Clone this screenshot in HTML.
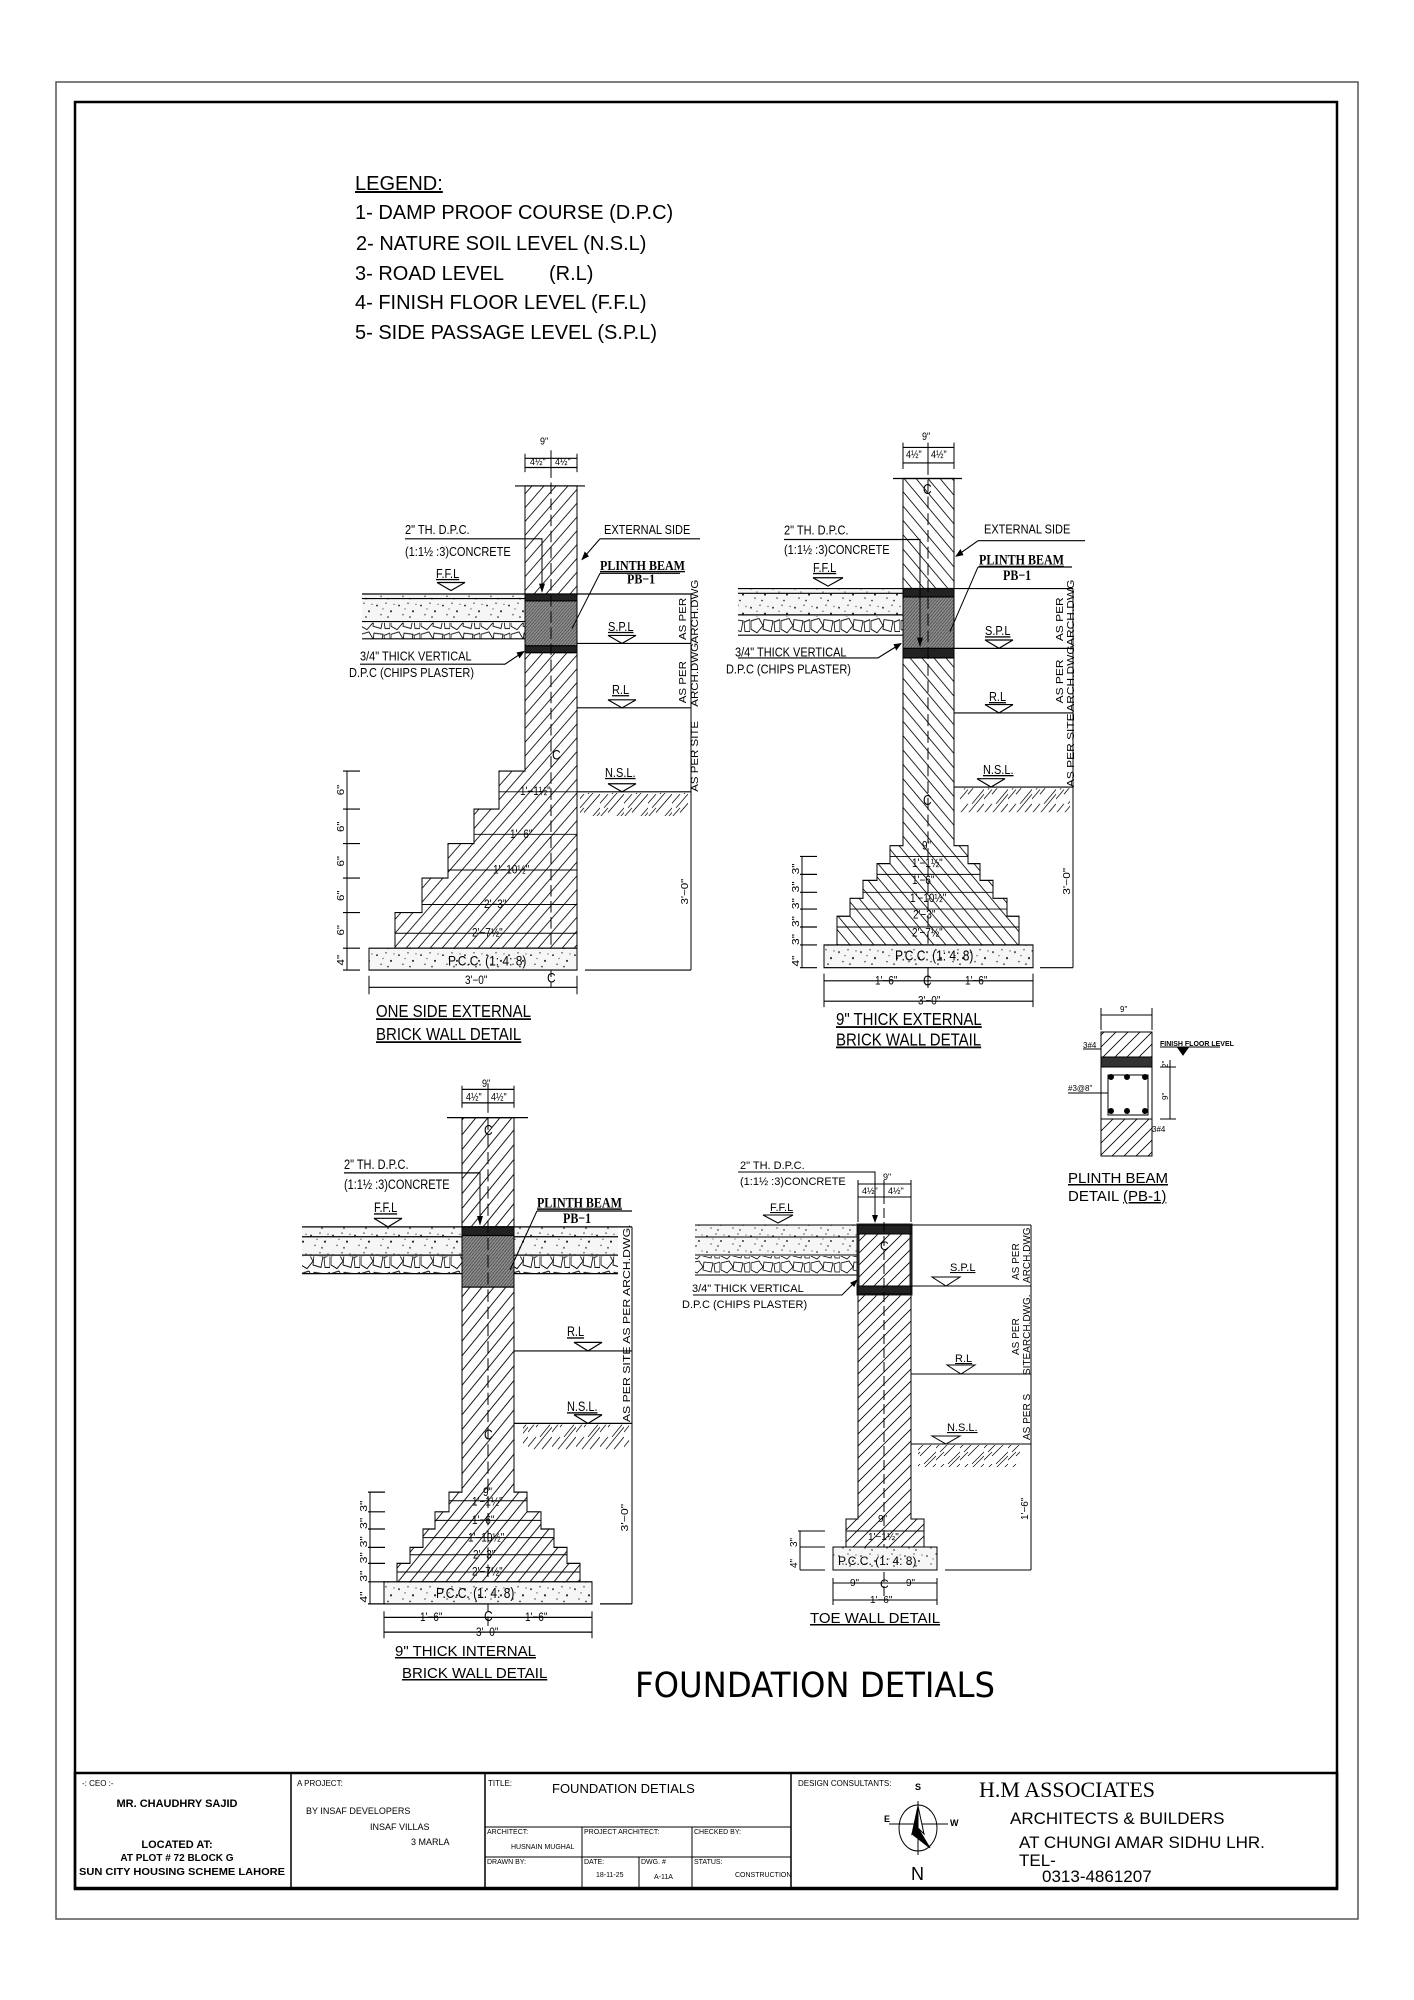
<!DOCTYPE html>
<html><head><meta charset="utf-8"><style>
html,body{margin:0;padding:0;background:#fff}
svg{display:block}
text{font-family:"Liberation Sans",Arial,sans-serif;fill:#000}
.s{font-size:11px}
.m{font-size:12px}
.b{font-family:"Liberation Serif",serif;font-weight:bold;font-size:12px}
.t{font-size:7px}
.tb{font-family:"Liberation Sans",sans-serif;font-size:10px}
</style></head><body>
<svg width="1414" height="2000" viewBox="0 0 1414 2000" xmlns="http://www.w3.org/2000/svg">
<defs>
<pattern id="hf" patternUnits="userSpaceOnUse" width="12" height="12"><path d="M-1,1 l2,-2 M0,12 l12,-12 M11,13 l2,-2" stroke="#000" stroke-width="0.8"/></pattern>
<pattern id="hb" patternUnits="userSpaceOnUse" width="12" height="12"><path d="M-1,11 l2,2 M0,0 l12,12 M11,-1 l2,2" stroke="#000" stroke-width="0.8"/></pattern>
<pattern id="dk" patternUnits="userSpaceOnUse" width="3" height="3"><rect width="3" height="3" fill="#8c8c8c"/><path d="M0,3 l3,-3" stroke="#444" stroke-width="0.6"/></pattern>
<pattern id="cc" patternUnits="userSpaceOnUse" width="22" height="16"><rect width="22" height="16" fill="#f6f6f6"/><circle cx="3" cy="4" r="0.8"/><circle cx="12" cy="2" r="0.6"/><circle cx="17" cy="9" r="0.9"/><circle cx="7" cy="12" r="0.6"/><circle cx="14" cy="14" r="0.7"/><circle cx="20" cy="3" r="0.5"/><circle cx="9" cy="7" r="0.5"/></pattern>
<pattern id="st" patternUnits="userSpaceOnUse" width="30" height="14"><rect width="30" height="14" fill="#fff"/><path d="M1,3 l8,-2 l4,6 l-6,6 l-6,-3z M14,2 l9,1 l-2,9 l-8,-2z M24,4 l6,-2 l0,10 l-5,0z" fill="none" stroke="#000" stroke-width="0.8"/></pattern>
<pattern id="so" patternUnits="userSpaceOnUse" width="24" height="24"><path d="M0,8 l8,-8 M4,12 l12,-12 M8,16 l16,-16 M12,24 l12,-12 M0,20 l8,-8 M16,24 l8,-8" stroke="#000" stroke-width="0.7"/></pattern>
<marker id="ar" markerWidth="8" markerHeight="8" refX="7" refY="4" orient="auto"><path d="M0,1 L8,4 L0,7z" fill="#000"/></marker>
</defs>
<rect x="0" y="0" width="1414" height="2000" fill="#fff"/>
<rect x="56" y="82" width="1302" height="1837" fill="none" stroke="#555" stroke-width="1.5"/>
<rect x="75" y="102" width="1262" height="1786" fill="none" stroke="#000" stroke-width="2.5"/>

<g style="font-size:20px">
<text x="355" y="190" text-decoration="underline">LEGEND:</text>
<text x="355" y="219">1- DAMP PROOF COURSE (D.P.C)</text>
<text x="356" y="250">2- NATURE SOIL LEVEL (N.S.L)</text>
<text x="355" y="280">3- ROAD LEVEL</text><text x="549" y="280">(R.L)</text>
<text x="355" y="309">4- FINISH FLOOR LEVEL (F.F.L)</text>
<text x="355" y="339">5- SIDE PASSAGE LEVEL (S.P.L)</text>
</g>

<!-- ========== DETAIL 1 ========== -->
<g transform="matrix(1,0,0,1.15,0,-61.5)">
<g stroke="#000" stroke-width="1" fill="none">
<rect x="362" y="570" width="163" height="24" fill="url(#cc)" stroke="none"/>
<rect x="362" y="595" width="163" height="14" fill="url(#st)" stroke="none"/>
<path d="M362,570 H525 M362,574 H525 M362,594 H525 M362,609 H525"/>
<path d="M525,476 H577 V878 H395 V847 H422 V817 H448 V787 H474 V757 H499 V724 H525 Z" fill="url(#hf)"/>
<rect x="525" y="570" width="52" height="51" fill="url(#dk)"/>
<rect x="525" y="570" width="52" height="6" fill="#222"/>
<rect x="525" y="615" width="52" height="6" fill="#222"/>
<path d="M515,476 H585"/>
<path d="M551,445 V912" stroke-dasharray="10,4"/>
<path d="M525,452 H577 M525,460 H577 M525,448 V464 M577,448 V464 M551,448 V464"/>
<rect x="369" y="878" width="208" height="19" fill="url(#cc)"/>
<path d="M499,742 H577 M474,779 H577 M448,810 H577 M422,840 H577 M395,865 H577" stroke-width="0.8"/>
<path d="M347,724 V897 M343,724 H360 M343,757 H360 M343,787 H360 M343,817 H360 M343,847 H360 M343,878 H360 M343,897 H360"/>
<path d="M577,570 H691 M577,613 H691 M577,669 H691 M577,742 H691 M585,897 H691 M691,570 V897"/>
<rect x="580" y="743" width="108" height="20" fill="url(#so)" stroke="none"/>
<path d="M369,912 H577 M369,902 V918 M577,902 V918"/>
<path d="M405,522 H542 V568" marker-end="url(#ar)"/>
<path d="M600,522 H700 M600,522 L582,540" marker-end="url(#ar)"/>
<path d="M600,552 H680 M600,552 L572,600"/>
<path d="M360,631 H505 L524,620" marker-end="url(#ar)"/>
<path d="M437,560 H465 L451,567 Z M608,606 H636 L622,613 Z M608,662 H636 L622,669 Z M608,735 H636 L622,742 Z"/>
</g>
<g class="s">
<text x="540" y="440" style="font-size:9px">9"</text>
<text x="530" y="458" style="font-size:9px">4½"</text><text x="555" y="458" style="font-size:9px">4½"</text>
<text x="405" y="518">2"  TH.  D.P.C.</text>
<text x="405" y="537">(1:1½ :3)CONCRETE</text>
<text x="604" y="518">EXTERNAL  SIDE</text>
<text class="b" x="600" y="549" text-decoration="underline">PLINTH  BEAM</text>
<text class="b" x="627" y="561">PB−1</text>
<text x="436" y="556" text-decoration="underline">F.F.L</text>
<text x="360" y="628">3/4"  THICK  VERTICAL</text>
<text x="349" y="642">D.P.C  (CHIPS  PLASTER)</text>
<text x="608" y="602" text-decoration="underline">S.P.L</text>
<text x="612" y="657" text-decoration="underline">R.L</text>
<text x="605" y="729" text-decoration="underline">N.S.L.</text>
<text x="552" y="714" style="font-size:12px">C</text>
<text x="547" y="908" style="font-size:12px">C</text>
<text x="520" y="745" style="font-size:10px">1'−1½"</text>
<text x="510" y="782" style="font-size:10px">1'−6"</text>
<text x="493" y="813" style="font-size:10px">1'−10½"</text>
<text x="484" y="843" style="font-size:10px">2'−3"</text>
<text x="472" y="868" style="font-size:10px">2'−7½"</text>
<text x="448" y="893" class="m">P.C.C.  (1: 4: 8)</text>
<text x="465" y="909" style="font-size:10px">3'−0"</text>
<g style="font-size:10px">
<text transform="translate(344,745) rotate(-90)">6"</text>
<text transform="translate(344,777) rotate(-90)">6"</text>
<text transform="translate(344,807) rotate(-90)">6"</text>
<text transform="translate(344,837) rotate(-90)">6"</text>
<text transform="translate(344,867) rotate(-90)">6"</text>
<text transform="translate(344,893) rotate(-90)">4"</text>
<text transform="translate(686,610) rotate(-90)">AS PER</text>
<text transform="translate(698,613) rotate(-90)">ARCH.DWG</text>
<text transform="translate(686,665) rotate(-90)">AS PER</text>
<text transform="translate(698,668) rotate(-90)">ARCH.DWG</text>
<text transform="translate(698,742) rotate(-90)">AS PER SITE</text>
<text transform="translate(688,840) rotate(-90)">3'−0"</text>
</g>
<text x="376" y="938" style="font-size:15px" text-decoration="underline">ONE SIDE EXTERNAL</text>
<text x="376" y="958" style="font-size:15px" text-decoration="underline">BRICK WALL DETAIL</text>
</g>
</g>

<!-- ========== DETAIL 2 ========== -->
<g transform="matrix(1,0,0,1.196,0,-86)">
<g stroke="#000" stroke-width="1" fill="none">
<rect x="738" y="564" width="165" height="22" fill="url(#cc)" stroke="none"/>
<rect x="738" y="587" width="165" height="16" fill="url(#st)" stroke="none"/>
<path d="M738,564 H903 M738,568 H903 M738,586 H903 M738,603 H903"/>
<path d="M903,472 H954 V779 H968 V794 H980 V808 H993 V823 H1007 V838 H1019 V862 H837 V838 H850 V823 H863 V808 H877 V794 H890 V779 H903 Z" fill="url(#hb)"/>
<rect x="903" y="564" width="51" height="58" fill="url(#dk)"/>
<rect x="903" y="564" width="51" height="7" fill="#222"/>
<rect x="903" y="614" width="51" height="8" fill="#222"/>
<path d="M893,472 H962"/>
<path d="M928,445 V898" stroke-dasharray="10,4"/>
<path d="M903,446 H954 M903,459 H954 M903,442 V464 M954,442 V464 M928,442 V464"/>
<rect x="824" y="862" width="209" height="19" fill="url(#cc)"/>
<path d="M890,788 H968 M877,803 H980 M863,818 H993 M850,832 H1007 M837,847 H1019" stroke-width="0.8"/>
<path d="M802,788 V881 M800,788 H817 M800,803 H817 M800,818 H817 M800,832 H817 M800,847 H817 M800,862 H817 M800,881 H817"/>
<path d="M954,564 H1073 M954,614 H1073 M954,668 H1073 M954,730 H1073 M1040,881 H1073 M1073,564 V881"/>
<rect x="960" y="731" width="110" height="20" fill="url(#so)" stroke="none"/>
<path d="M824,892 H1033 M824,909 H1033 M824,886 V914 M1033,886 V914 M928,886 V898"/>
<path d="M784,523 H920 V612" marker-end="url(#ar)"/>
<path d="M978,524 H1085 M978,524 L956,537" marker-end="url(#ar)"/>
<path d="M978,546 H1072 M978,546 L950,600"/>
<path d="M738,622 H878 L901,610" marker-end="url(#ar)"/>
<path d="M813,555 H843 L828,562 Z M985,607 H1013 L999,614 Z M985,661 H1013 L999,668 Z M977,723 H1005 L991,730 Z"/>
</g>
<g class="s">
<text x="922" y="440" style="font-size:9px">9"</text>
<text x="906" y="455" style="font-size:9px">4½"</text><text x="931" y="455" style="font-size:9px">4½"</text>
<text x="784" y="519">2"  TH.  D.P.C.</text>
<text x="784" y="535">(1:1½ :3)CONCRETE</text>
<text x="984" y="518">EXTERNAL  SIDE</text>
<text class="b" x="979" y="544" text-decoration="underline">PLINTH  BEAM</text>
<text class="b" x="1003" y="557">PB−1</text>
<text x="813" y="550" text-decoration="underline">F.F.L</text>
<text x="735" y="621">3/4"  THICK  VERTICAL</text>
<text x="726" y="635">D.P.C  (CHIPS  PLASTER)</text>
<text x="985" y="603" text-decoration="underline">S.P.L</text>
<text x="989" y="658" text-decoration="underline">R.L</text>
<text x="983" y="719" text-decoration="underline">N.S.L.</text>
<text x="923" y="485" style="font-size:12px">C</text>
<text x="923" y="745" style="font-size:12px">C</text>
<text x="923" y="896" style="font-size:12px">C</text>
<g style="font-size:10px">
<text x="922" y="782">9"</text>
<text x="912" y="797">1'−1½"</text>
<text x="912" y="811">1'−6"</text>
<text x="910" y="826">1'−10½"</text>
<text x="913" y="840">2'−3"</text>
<text x="912" y="855">2'−7½"</text>
<text x="875" y="895">1'−6"</text><text x="965" y="895">1'−6"</text>
<text x="918" y="912">3'−0"</text>
<text transform="translate(799,803) rotate(-90)">3"</text>
<text transform="translate(799,818) rotate(-90)">3"</text>
<text transform="translate(799,832) rotate(-90)">3"</text>
<text transform="translate(799,847) rotate(-90)">3"</text>
<text transform="translate(799,862) rotate(-90)">3"</text>
<text transform="translate(799,880) rotate(-90)">4"</text>
<text transform="translate(1063,608) rotate(-90)">AS PER</text>
<text transform="translate(1074,612) rotate(-90)">ARCH.DWG</text>
<text transform="translate(1063,660) rotate(-90)">AS PER</text>
<text transform="translate(1074,667) rotate(-90)">ARCH.DWG</text>
<text transform="translate(1074,730) rotate(-90)">AS PER SITE</text>
<text transform="translate(1070,820) rotate(-90)">3'−0"</text>
</g>
<text x="895" y="875" class="m">P.C.C.  (1: 4: 8)</text>
<text x="836" y="929" style="font-size:15px" text-decoration="underline">9" THICK EXTERNAL</text>
<text x="836" y="946" style="font-size:15px" text-decoration="underline">BRICK WALL DETAIL</text>
</g>
</g>

<!-- ========== PLINTH BEAM DETAIL ========== -->
<g stroke="#000" stroke-width="1" fill="none">
<rect x="1101" y="1032" width="51" height="124" fill="url(#hf)"/>
<rect x="1101" y="1067" width="51" height="52" fill="#fff"/>
<rect x="1101" y="1057" width="51" height="10" fill="#333"/>
<rect x="1108" y="1075" width="40" height="40"/>
<circle cx="1111" cy="1077" r="2.5" fill="#000"/><circle cx="1127" cy="1077" r="2.5" fill="#000"/><circle cx="1145" cy="1077" r="2.5" fill="#000"/>
<circle cx="1111" cy="1111" r="2.5" fill="#000"/><circle cx="1127" cy="1111" r="2.5" fill="#000"/><circle cx="1145" cy="1111" r="2.5" fill="#000"/>
<path d="M1101,1015 H1152 M1101,1008 V1030 M1152,1008 V1030"/>
<path d="M1160,1047 H1220 M1160,1067 H1176 M1160,1119 H1176 M1170,1060 V1119"/>
<path d="M1068,1093 H1108 M1083,1049 H1101"/>
<path d="M1178,1048 l5,7 l5,-7z" fill="#000"/>
</g>
<g style="font-size:8px">
<text x="1120" y="1012">9"</text>
<text x="1083" y="1048">3#4</text>
<text x="1068" y="1091">#3@8"</text>
<text x="1152" y="1132">3#4</text>
<text x="1160" y="1046" style="font-size:7px;font-weight:bold">FINISH  FLOOR  LEVEL</text>
<text transform="translate(1168,1068) rotate(-90)">2"</text>
<text transform="translate(1168,1100) rotate(-90)">9"</text>
</g>
<text x="1068" y="1183" style="font-size:15px" text-decoration="underline">PLINTH BEAM</text>
<text x="1068" y="1201" style="font-size:15px">DETAIL <tspan text-decoration="underline">(PB-1)</tspan></text>

<!-- ========== DETAIL 3 ========== -->
<g transform="matrix(1,0,0,1.228,0,-243)">
<g stroke="#000" stroke-width="1" fill="none">
<rect x="302" y="1197" width="316" height="23" fill="url(#cc)" stroke="none"/>
<rect x="302" y="1221" width="316" height="14" fill="url(#st)" stroke="none"/>
<path d="M302,1197 H618 M302,1205 H618 M302,1220 H618 M302,1235 H618"/>
<path d="M462,1108 H514 V1413 H527 V1429 H541 V1443 H554 V1458 H567 V1471 H580 V1486 H397 V1471 H410 V1458 H423 V1443 H435 V1429 H449 V1413 H462 Z" fill="url(#hf)"/>
<rect x="462" y="1197" width="52" height="49" fill="url(#dk)"/>
<rect x="462" y="1197" width="52" height="7" fill="#222"/>
<path d="M447,1108 H528"/>
<path d="M488,1080 V1522" stroke-dasharray="10,4"/>
<path d="M462,1085 H514 M462,1096 H514 M462,1082 V1100 M514,1082 V1100 M488,1082 V1100"/>
<rect x="384" y="1486" width="208" height="18" fill="url(#cc)"/>
<path d="M449,1420 H527 M435,1436 H541 M423,1450 H554 M410,1464 H567 M397,1478 H580" stroke-width="0.8"/>
<path d="M370,1413 V1504 M368,1413 H385 M368,1429 H385 M368,1443 H385 M368,1458 H385 M368,1471 H385 M368,1486 H385 M368,1504 H385"/>
<path d="M514,1298 H632 M514,1357 H632 M600,1504 H632 M632,1197 V1504 M618,1197 H632"/>
<rect x="523" y="1358" width="106" height="20" fill="url(#so)" stroke="none"/>
<path d="M384,1515 H592 M384,1527 H592 M384,1510 V1532 M592,1510 V1532"/>
<path d="M344,1153 H480 V1195" marker-end="url(#ar)"/>
<path d="M537,1184 H632 M537,1184 L510,1232"/>
<path d="M374,1190 H402 L388,1197 Z M574,1291 H602 L588,1298 Z M574,1350 H602 L588,1357 Z"/>
</g>
<g class="s">
<text x="482" y="1083" style="font-size:9px">9"</text>
<text x="466" y="1094" style="font-size:9px">4½"</text><text x="491" y="1094" style="font-size:9px">4½"</text>
<text x="344" y="1150">2"  TH.  D.P.C.</text>
<text x="344" y="1166">(1:1½ :3)CONCRETE</text>
<text class="b" x="537" y="1181" text-decoration="underline">PLINTH  BEAM</text>
<text class="b" x="563" y="1194">PB−1</text>
<text x="374" y="1185" text-decoration="underline">F.F.L</text>
<text x="567" y="1286" text-decoration="underline">R.L</text>
<text x="567" y="1347" text-decoration="underline">N.S.L.</text>
<text x="484" y="1122" style="font-size:12px">C</text>
<text x="484" y="1370" style="font-size:12px">C</text>
<text x="484" y="1518" style="font-size:12px">C</text>
<g style="font-size:10px">
<text x="483" y="1416">9"</text>
<text x="472" y="1424">1'−1½"</text>
<text x="472" y="1439">1'−6"</text>
<text x="468" y="1453">1'−10½"</text>
<text x="473" y="1467">2'−3"</text>
<text x="472" y="1481">2'−7½"</text>
<text x="420" y="1518">1'−6"</text><text x="525" y="1518">1'−6"</text>
<text x="476" y="1530">3'−0"</text>
<text transform="translate(367,1429) rotate(-90)">3"</text>
<text transform="translate(367,1443) rotate(-90)">3"</text>
<text transform="translate(367,1458) rotate(-90)">3"</text>
<text transform="translate(367,1471) rotate(-90)">3"</text>
<text transform="translate(367,1486) rotate(-90)">3"</text>
<text transform="translate(367,1503) rotate(-90)">4"</text>
<text transform="translate(630,1356) rotate(-90)">AS  PER  SITE  AS  PER  ARCH.DWG.</text>
<text transform="translate(628,1445) rotate(-90)">3'−0"</text>
</g>
<text x="436" y="1499" class="m">P.C.C.  (1: 4: 8)</text>
</g>
</g>
<text x="395" y="1656" style="font-size:15px" text-decoration="underline">9" THICK INTERNAL</text>
<text x="402" y="1678" style="font-size:15px" text-decoration="underline">BRICK WALL DETAIL</text>

<!-- ========== DETAIL 4 ========== -->
<g stroke="#000" stroke-width="1" fill="none">
<rect x="695" y="1225" width="163" height="30" fill="url(#cc)" stroke="none"/>
<rect x="695" y="1256" width="163" height="19" fill="url(#st)" stroke="none"/>
<path d="M695,1225 H858 M695,1237 H858 M695,1255 H858 M695,1275 H858"/>
<path d="M858,1225 H911 V1519 H924 V1531 H924 V1547 H846 V1531 H846 V1519 H858 Z" fill="url(#hf)"/>
<path d="M858,1225 H911 V1294 H858 Z" stroke="#222" stroke-width="3"/>
<rect x="858" y="1225" width="53" height="9" fill="#222"/>
<rect x="858" y="1286" width="53" height="8" fill="#222"/>
<path d="M846,1531 H924"/>
<path d="M884,1180 V1600" stroke-dasharray="10,4"/>
<path d="M858,1184 H911 M858,1197 H911 M858,1180 V1222 M911,1180 V1222 M884,1180 V1200"/>
<rect x="833" y="1547" width="104" height="23" fill="url(#cc)"/>
<path d="M798,1531 H825 M800,1547 H825 M800,1570 H825 M800,1531 V1570"/>
<path d="M911,1225 H1031 M911,1286 H1031 M911,1374 H1031 M911,1444 H1031 M945,1570 H1031 M1031,1225 V1570"/>
<rect x="918" y="1445" width="102" height="22" fill="url(#so)" stroke="none"/>
<path d="M833,1583 H937 M833,1600 H937 M833,1578 V1605 M937,1578 V1605"/>
<path d="M738,1172 H875 V1222" marker-end="url(#ar)"/>
<path d="M693,1295 H842 L857,1280" marker-end="url(#ar)"/>
<path d="M763,1215 H793 L778,1223 Z M932,1277 H960 L946,1286 Z M947,1365 H975 L961,1374 Z M932,1436 H960 L946,1444 Z"/>
</g>
<g class="s">
<text x="883" y="1180" style="font-size:9px">9"</text>
<text x="862" y="1194" style="font-size:9px">4½"</text><text x="888" y="1194" style="font-size:9px">4½"</text>
<text x="740" y="1169">2"  TH.  D.P.C.</text>
<text x="740" y="1185">(1:1½ :3)CONCRETE</text>
<text x="770" y="1211" text-decoration="underline">F.F.L</text>
<text x="692" y="1292">3/4"  THICK  VERTICAL</text>
<text x="682" y="1308">D.P.C  (CHIPS  PLASTER)</text>
<text x="950" y="1271" text-decoration="underline">S.P.L</text>
<text x="955" y="1362" text-decoration="underline">R.L</text>
<text x="947" y="1431" text-decoration="underline">N.S.L.</text>
<text x="880" y="1250" style="font-size:12px">C</text>
<text x="880" y="1588" style="font-size:12px">C</text>
<g style="font-size:10px">
<text x="878" y="1522">9"</text>
<text x="868" y="1540">1'−1½"</text>
<text x="850" y="1586">9"</text><text x="906" y="1586">9"</text>
<text x="870" y="1603">1'−6"</text>
<text transform="translate(797,1547) rotate(-90)">3"</text>
<text transform="translate(797,1568) rotate(-90)">4"</text>
<text transform="translate(1019,1280) rotate(-90)">AS PER</text>
<text transform="translate(1030,1283) rotate(-90)">ARCH.DWG</text>
<text transform="translate(1019,1355) rotate(-90)">AS PER</text>
<text transform="translate(1030,1375) rotate(-90)">SITEARCH.DWG.</text>
<text transform="translate(1030,1440) rotate(-90)">AS PER S</text>
<text transform="translate(1028,1520) rotate(-90)">1'−6"</text>
</g>
<text x="838" y="1565" class="m">P.C.C.  (1: 4: 8)</text>
</g>
<text x="810" y="1623" style="font-size:15px" text-decoration="underline">TOE WALL DETAIL</text>

<text x="635" y="1697" textLength="360" lengthAdjust="spacingAndGlyphs" style="font-family:'DejaVu Sans',sans-serif;font-size:35px">FOUNDATION DETIALS</text>

<!-- ========== TITLE BLOCK ========== -->
<g stroke="#000" fill="none">
<rect x="75" y="1773" width="1262" height="116" stroke-width="2.5"/>
<path d="M291,1773 V1889 M485,1773 V1889 M791,1773 V1889" stroke-width="1.5"/>
<path d="M485,1827 H791 M485,1857 H791 M582,1827 V1889 M692,1827 V1889 M639,1857 V1889" stroke-width="1"/>
</g>
<g class="tb">
<text x="82" y="1786" style="font-size:8px">-: CEO :-</text>
<text x="177" y="1807" text-anchor="middle" style="font-weight:bold;font-size:11px">MR. CHAUDHRY SAJID</text>
<text x="177" y="1848" text-anchor="middle" style="font-weight:bold;font-size:11px">LOCATED AT:</text>
<text x="177" y="1861" text-anchor="middle" style="font-weight:bold;font-size:10px">AT PLOT # 72 BLOCK G</text>
<text x="182" y="1875" text-anchor="middle" style="font-weight:bold;font-size:10px" textLength="206" lengthAdjust="spacingAndGlyphs">SUN CITY HOUSING SCHEME LAHORE</text>
<text x="297" y="1786" style="font-size:8px">A PROJECT:</text>
<text x="306" y="1814" style="font-size:9px">BY INSAF DEVELOPERS</text>
<text x="370" y="1830" style="font-size:9px">INSAF VILLAS</text>
<text x="411" y="1845" style="font-size:9px">3 MARLA</text>
<text x="488" y="1786" style="font-size:8px">TITLE:</text>
<text x="552" y="1793" style="font-size:13px">FOUNDATION DETIALS</text>
<text x="487" y="1834" class="t">ARCHITECT:</text>
<text x="584" y="1834" class="t">PROJECT ARCHITECT:</text>
<text x="694" y="1834" class="t">CHECKED BY:</text>
<text x="511" y="1849" style="font-size:7px">HUSNAIN MUGHAL</text>
<text x="487" y="1864" class="t">DRAWN BY:</text>
<text x="584" y="1864" class="t">DATE:</text>
<text x="641" y="1864" class="t">DWG. #</text>
<text x="694" y="1864" class="t">STATUS:</text>
<text x="596" y="1877" style="font-size:7px">18-11-25</text>
<text x="654" y="1879" style="font-size:7px">A-11A</text>
<text x="735" y="1877" style="font-size:7px">CONSTRUCTION</text>
<text x="798" y="1786" style="font-size:8px">DESIGN CONSULTANTS:</text>
</g>
<g stroke="#000" fill="none">
<ellipse cx="918" cy="1828" rx="19" ry="23"/>
<path d="M918,1801 V1855 M889,1824 H948"/>
<path d="M918,1806 L912,1834 L918,1828 Z" fill="#000"/>
<path d="M918,1806 L924,1834 L918,1828 Z" fill="#fff"/>
<path d="M918,1828 L912,1834 L930,1848 Z" fill="#000"/>
</g>
<g style="font-family:'Liberation Serif',serif;font-weight:bold;font-size:9px">
<text x="915" y="1790">S</text><text x="884" y="1822">E</text><text x="950" y="1826">W</text>
</g>
<text x="911" y="1880" style="font-size:18px">N</text>
<text x="979" y="1797" style="font-family:'Liberation Serif',serif;font-size:22px">H.M  ASSOCIATES</text>
<text x="1010" y="1824" style="font-size:17px">ARCHITECTS &amp; BUILDERS</text>
<text x="1019" y="1848" style="font-size:17px">AT CHUNGI AMAR SIDHU LHR.</text>
<text x="1019" y="1866" style="font-size:17px">TEL-</text>
<text x="1042" y="1882" style="font-size:17px">0313-4861207</text>
</svg>
</body></html>
